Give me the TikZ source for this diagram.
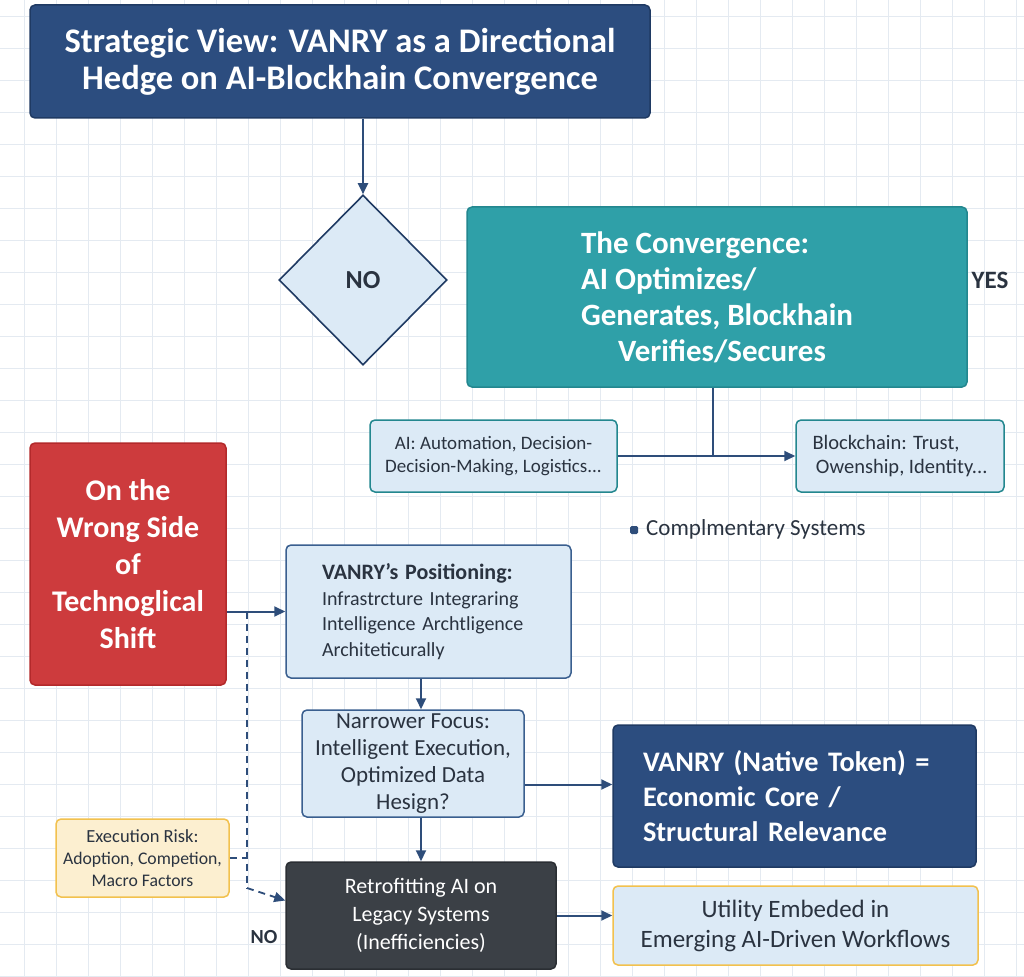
\documentclass[tikz,border=0pt]{standalone}
\usepackage{fontspec}
\setmainfont{Carlito}
\usetikzlibrary{arrows.meta,shapes.geometric,calc}
\definecolor{navy}{HTML}{2C4D7F}
\definecolor{navyd}{HTML}{1F3A63}
\definecolor{tealc}{HTML}{2FA0A8}
\definecolor{teald}{HTML}{23878F}
\definecolor{lblue}{HTML}{DCEAF6}
\definecolor{lbord}{HTML}{3A5F8F}
\definecolor{redc}{HTML}{CD3B3D}
\definecolor{redd}{HTML}{B3292B}
\definecolor{darkg}{HTML}{3B4046}
\definecolor{darkgd}{HTML}{2A2E33}
\definecolor{yelf}{HTML}{FCEFD0}
\definecolor{yelb}{HTML}{F2C14E}
\definecolor{linec}{HTML}{2E4D7A}
\definecolor{gridc}{HTML}{E4EAF1}
\definecolor{txt}{HTML}{2A3340}
\newcommand\fsz[2]{\fontsize{#1}{#2}\selectfont}
\begin{document}
\begin{tikzpicture}[x=1pt,y=-1pt,
  box/.style={rectangle, rounded corners=5pt, line width=1.5pt, inner sep=0pt, align=center},
  navybox/.style={box, fill=navy, draw=navyd, text=white},
  lightbox/.style={box, fill=lblue, draw=lbord, text=txt},
  conn/.style={draw=linec, line width=2pt},
  arr/.style={conn, -{Triangle[length=11pt,width=10pt]}},
  dashconn/.style={conn, line width=1.8pt, dash pattern=on 7pt off 5pt},
  lbl/.style={font=\bfseries, text=txt, inner sep=0pt}
]
\fill[white] (0,0) rectangle (1024,976);
\useasboundingbox (0,0) rectangle (1024,976);
\foreach \gx in {24,56,...,1016} \draw[gridc, line width=0.8pt] (\gx,0) -- (\gx,976);
\foreach \gy in {16,48,...,976} \draw[gridc, line width=0.8pt] (0,\gy) -- (1024,\gy);

% nodes
\node[navybox, minimum width=620pt, minimum height=113pt, font=\fsz{34.5}{37}\bfseries] (title) at (340,61.5)
  {Strategic View: VANRY as a Directional\\Hedge on AI-Blockhain Convergence};
\node[diamond, fill=lblue, draw=navyd, line width=1.6pt, minimum width=168pt, minimum height=170pt, inner sep=0pt, font=\fsz{26}{30}\bfseries, text=txt] (dia) at (363,280) {NO};
\node[box, fill=tealc, draw=teald, text=white, minimum width=500pt, minimum height=180pt, align=left, font=\fsz{31}{36}\bfseries] (teal) at (717,297)
  {The Convergence:\\AI Optimizes/\\Generates, Blockhain\\\hspace*{37pt}Verifies/Secures};
\node[lbl, font=\fsz{25}{30}\bfseries] (yes) at (990,280) {YES};
\node[lightbox, draw=teald, minimum width=247pt, minimum height=72pt, font=\fsz{19}{23}] (ai) at (493.5,456)
  {AI: Automation, Decision-\\Decision-Making, Logistics...};
\node[lightbox, draw=teald, minimum width=208pt, minimum height=72pt, align=left, font=\fsz{20.5}{24}] (bc) at (900,456)
  {Blockchain: Trust,\\\,Owenship, Identity...};
\coordinate (junc) at (713,456);
\node[fill=linec, rounded corners=1.5pt, minimum width=8pt, minimum height=8pt, inner sep=0pt] (bul) at (634,530) {};
\node[anchor=west, text=txt, inner sep=0pt, font=\fsz{23}{27}] (comp) at (646,529) {Complmentary Systems};
\node[box, fill=redc, draw=redd, text=white, minimum width=196pt, minimum height=242pt, font=\fsz{30}{37}\bfseries] (red) at (128,564)
  {On the\\Wrong Side\\of\\Technoglical\\Shift};
\node[lightbox, minimum width=285pt, minimum height=133pt, text width=213pt, inner xsep=36pt, align=left, font=\fsz{20}{25.5}] (pos) at (428.5,611.5)
  {{\fsz{22}{27}\bfseries VANRY's Positioning:}\\Infrastrcture Integraring\\Intelligence Archtligence\\Architeticurally};
\node[lightbox, minimum width=222pt, minimum height=107pt, font=\fsz{23}{27}] (nar) at (413,763.5)
  {Narrower Focus:\\Intelligent Execution,\\Optimized Data\\Hesign?};
\node[box, fill=yelf, draw=yelb, text=txt, minimum width=173pt, minimum height=78pt, font=\fsz{17.7}{22}] (exec) at (142.5,858)
  {{\fsz{18.5}{22}Execution Risk:}\\Adoption, Competion,\\Macro Factors};
\node[box, fill=darkg, draw=darkgd, text=white, minimum width=270pt, minimum height=107pt, font=\fsz{22}{28}] (retro) at (421,915.5)
  {Retrofitting AI on\\Legacy Systems\\(Inefficiencies)};
\node[navybox, minimum width=363pt, minimum height=142pt, text width=303pt, inner xsep=30pt, align=left, font=\fsz{28.3}{35}\bfseries] (tok) at (794.5,796)
  {VANRY (Native Token) =\\Economic Core /\\Structural Relevance};
\node[box, fill=lblue, draw=yelb, text=txt, minimum width=365pt, minimum height=79pt, font=\fsz{25}{30}] (util) at (795.5,925.5)
  {Utility Embeded in\\Emerging AI-Driven Workflows};
\node[lbl, font=\fsz{20}{24}\bfseries] (no2) at (264,937) {NO};

% connectors
\draw[arr] (title.south -| dia.north) -- (dia.north);
\draw[conn] (teal.south -| junc) -- (junc);
\draw[arr] (ai.east) -- (bc.west);
\draw[arr] (red.east |- pos.west) -- (pos.west);
\coordinate (dtop) at (247,611.5);
\coordinate (dbend) at (247,888);
\draw[dashconn] (dtop) -- (dbend);
\draw[dashconn, -{Triangle[length=11pt,width=10pt]}] (dbend) -- ([yshift=15pt]retro.west);
\draw[dashconn] (exec.east) -- (exec.east -| dbend);
\draw[arr] (pos.south -| retro.north) -- (nar.north -| retro.north);
\draw[arr] (nar.south -| retro.north) -- (retro.north);
\draw[arr] ([yshift=-21pt]nar.east) -- ([yshift=-21pt]nar.east -| tok.west);
\draw[arr] (retro.east) -- (retro.east -| util.west);
\end{tikzpicture}
\end{document}
